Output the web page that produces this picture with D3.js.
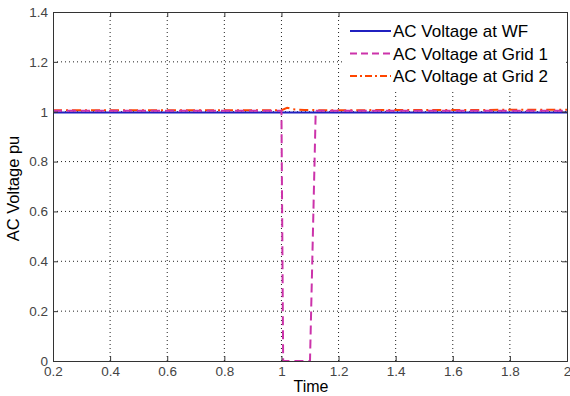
<!DOCTYPE html>
<html>
<head>
<meta charset="utf-8">
<script src="https://cdn.jsdelivr.net/npm/d3@7/dist/d3.min.js"></script>
<style>
  body { margin: 0; background: #fff; }
  svg { display: block; font-family: "Liberation Sans", Arial, sans-serif; }
</style>
</head>
<body>
<div id="chart"></div>
<script>
// data
const xTicks = [0.2, 0.4, 0.6, 0.8, 1, 1.2, 1.4, 1.6, 1.8, 2];
const yTicks = [0, 0.2, 0.4, 0.6, 0.8, 1, 1.2, 1.4];
const seriesNames = ['AC Voltage at WF', 'AC Voltage at Grid 1', 'AC Voltage at Grid 2'];
const wfT = [0.2, 2];
const wfV = [0.997, 0.997];
const grid1T = [0.2, 1.0, 1.006, 1.1, 1.12, 2];
const grid1V = [1.004, 1.004, 0, 0, 1.004, 1.004];
const grid2T = [0.2, 1.0, 1.02, 1.04, 1.08, 1.15, 2];
const grid2V = [1.006, 1.006, 1.016, 1.01, 1.007, 1.006, 1.008];

const W = 570, H = 396;
const margin = { left: 53, right: 3, top: 12, bottom: 35 };
const width = W - margin.left - margin.right;
const height = H - margin.top - margin.bottom;

const svg = d3.select('#chart').append('svg')
  .attr('width', W).attr('height', H);
const g = svg.append('g')
  .attr('transform', 'translate(' + margin.left + ',' + margin.top + ')');

const x = d3.scaleLinear().domain([0.2, 2]).range([0, width]);
const y = d3.scaleLinear().domain([0, 1.4]).range([height, 0]);

// grid
g.append('g').selectAll('line').data(xTicks.slice(1, -1)).enter().append('line')
  .attr('x1', d => x(d)).attr('x2', d => x(d))
  .attr('y1', 0).attr('y2', height)
  .attr('stroke', '#222').attr('stroke-width', 1).attr('stroke-dasharray', '1,3');
g.append('g').selectAll('line').data(yTicks.slice(1, -1)).enter().append('line')
  .attr('y1', d => y(d)).attr('y2', d => y(d))
  .attr('x1', 0).attr('x2', width)
  .attr('stroke', '#222').attr('stroke-width', 1).attr('stroke-dasharray', '1,3');

// series
const line = d3.line().x(d => x(d[0])).y(d => y(d[1]));
const zip = (a, b) => a.map((t, i) => [t, b[i]]);

g.append('path').datum(zip(grid2T, grid2V)).attr('d', line)
  .attr('fill', 'none').attr('stroke', '#ff4500').attr('stroke-width', 2)
  .attr('stroke-dasharray', '9,4,2,4');
g.append('path').datum(zip(wfT, wfV)).attr('d', line)
  .attr('fill', 'none').attr('stroke', '#2020c0').attr('stroke-width', 2);
g.append('path').datum(zip(grid1T, grid1V)).attr('d', line)
  .attr('fill', 'none').attr('stroke', '#cc33aa').attr('stroke-width', 2)
  .attr('stroke-dasharray', '9,5');

// axes
const xAxis = g.append('g').attr('transform', 'translate(0,' + height + ')')
  .call(d3.axisBottom(x).tickValues(xTicks).tickSize(-5).tickPadding(5).tickFormat(d3.format('')));
const yAxis = g.append('g')
  .call(d3.axisLeft(y).tickValues(yTicks).tickSize(-5).tickPadding(5).tickFormat(d3.format('')));
g.append('g').attr('transform', 'translate(0,0)')
  .call(d3.axisTop(x).tickValues(xTicks).tickSize(-5).tickFormat(''));
g.append('g').attr('transform', 'translate(' + width + ',0)')
  .call(d3.axisRight(y).tickValues(yTicks).tickSize(-5).tickFormat(''));
g.selectAll('.domain').attr('stroke', '#333');
g.selectAll('.tick line').attr('stroke', '#333');
[xAxis, yAxis].forEach(a => a.selectAll('text')
  .attr('fill', '#444').style('font-size', '13.5px'));

// legend (white box over the grid, upper right)
const lgX = 290;
const lg = g.append('g').attr('transform', 'translate(' + lgX + ',1)');
lg.append('rect').attr('width', width - lgX - 1).attr('height', 76)
  .attr('fill', '#fff');
const styles = [
  { c: '#2020c0', dash: null },
  { c: '#cc33aa', dash: '7,4' },
  { c: '#ff4500', dash: '7,3,2,3' }
];
seriesNames.forEach((name, i) => {
  const row = lg.append('g').attr('transform', 'translate(0,' + (18 + i * 22.5) + ')');
  row.append('line').attr('x1', 7).attr('x2', 48)
    .attr('stroke', styles[i].c).attr('stroke-width', 2)
    .attr('stroke-dasharray', styles[i].dash);
  row.append('text').attr('x', 50).attr('y', 6)
    .style('font-size', '17px').attr('fill', '#000').text(name);
});

// axis labels
svg.append('text').attr('x', margin.left + width / 2 + 1).attr('y', H - 4)
  .attr('text-anchor', 'middle').style('font-size', '16px').text('Time');
svg.append('text')
  .attr('transform', 'translate(19,' + (margin.top + height / 2 + 2) + ') rotate(-90)')
  .attr('text-anchor', 'middle').style('font-size', '16.5px').text('AC Voltage pu');
</script>
</body>
</html>
